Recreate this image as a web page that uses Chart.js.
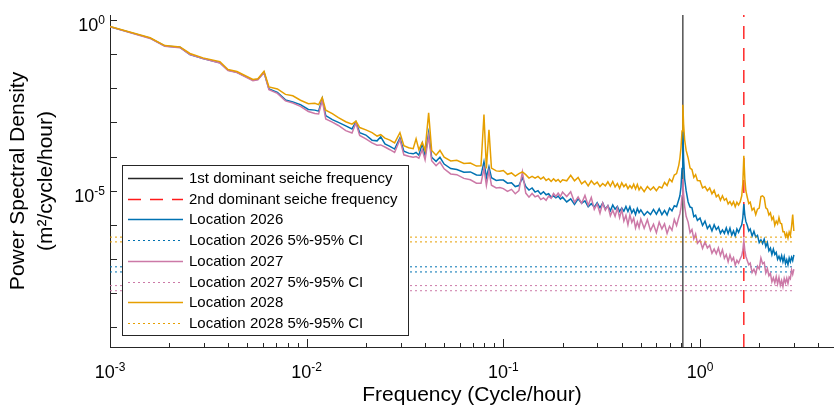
<!DOCTYPE html>
<html>
<head>
<meta charset="utf-8">
<title>Power Spectral Density</title>
<script src="https://cdn.jsdelivr.net/npm/chart.js@4.4.1/dist/chart.umd.min.js"></script>
<style>
    html, body { margin: 0; padding: 0; background: #fff; }
    #wrap { position: relative; width: 834px; height: 410px; }
</style>
</head>
<body>
<div id="wrap"><canvas id="psdChart"></canvas></div>
<script>
// Frequency (cycle/hour)
const freq = [
    0.0010, 0.0016, 0.0019, 0.00227, 0.00255, 0.00297, 0.00362, 0.00398, 0.00442, 0.00533,
    0.00565, 0.00607, 0.00643, 0.0071, 0.0078, 0.0085, 0.0093, 0.0102, 0.0110, 0.0115,
    0.0120, 0.0125, 0.0135, 0.0145, 0.0158, 0.0170, 0.0178, 0.0186, 0.0200, 0.0215,
    0.0228, 0.0238, 0.0250, 0.0265, 0.0280, 0.0298, 0.0312, 0.0330, 0.0348, 0.0360,
    0.0372, 0.0387, 0.0400, 0.0417, 0.0432, 0.0455, 0.0476, 0.0500, 0.0540, 0.0580,
    0.0630, 0.0680, 0.0730, 0.0770, 0.0797, 0.0820, 0.0845, 0.0870, 0.0920, 0.0960,
    0.100, 0.105, 0.110, 0.115, 0.120, 0.125, 0.130, 0.135, 0.140, 0.145,
    0.150, 0.155, 0.160, 0.165, 0.170, 0.175, 0.180, 0.185, 0.190, 0.195,
    0.200, 0.21, 0.22, 0.23, 0.24, 0.25, 0.26, 0.27, 0.28, 0.29,
    0.30, 0.31, 0.32, 0.33, 0.34, 0.35, 0.36, 0.37, 0.38, 0.39,
    0.40, 0.41, 0.42, 0.43, 0.44, 0.45, 0.46, 0.47, 0.48, 0.49,
    0.50, 0.52, 0.54, 0.56, 0.58, 0.60, 0.62, 0.64, 0.66, 0.68,
    0.70, 0.72, 0.74, 0.76, 0.78, 0.79, 0.80, 0.81, 0.818, 0.825,
    0.835, 0.85, 0.87, 0.89, 0.91, 0.93, 0.95, 0.97, 1.00, 1.03,
    1.06, 1.09, 1.12, 1.15, 1.18, 1.21, 1.24, 1.27, 1.30, 1.33,
    1.36, 1.39, 1.42, 1.45, 1.48, 1.51, 1.54, 1.57, 1.60, 1.63,
    1.65, 1.67, 1.69, 1.71, 1.74, 1.77, 1.80, 1.84, 1.88, 1.92,
    1.96, 2.00, 2.04, 2.08, 2.12, 2.16, 2.20, 2.24, 2.28, 2.32,
    2.36, 2.40, 2.44, 2.48, 2.52, 2.56, 2.60, 2.64, 2.68, 2.72,
    2.76, 2.80, 2.84, 2.88, 2.92, 2.96, 3.00
];

// PSD per location, stored as log10(m^2/cycle/hour)
const logPsd2026 = [
    -0.20, -0.53, -0.76, -0.80, -1.01, -1.13, -1.25, -1.47, -1.53, -1.76,
    -1.74, -1.53, -2.02, -2.12, -2.34, -2.40, -2.48, -2.62, -2.64, -2.67,
    -2.30, -2.80, -2.92, -3.00, -3.10, -3.19, -2.98, -3.30, -3.37, -3.52,
    -3.54, -3.42, -3.63, -3.70, -3.78, -3.45, -3.84, -3.90, -3.92, -3.88,
    -3.96, -3.62, -3.98, -3.30, -4.02, -4.14, -4.02, -4.22, -4.35, -4.38,
    -4.46, -4.45, -4.54, -4.55, -4.15, -4.62, -4.30, -4.62, -4.70, -4.69,
    -4.69, -4.78, -4.77, -4.88, -4.85, -4.62, -4.88, -4.98, -4.92, -5.04,
    -5.00, -5.10, -5.03, -5.12, -5.09, -5.19, -5.15, -5.21, -5.16, -5.25,
    -5.19, -5.33, -5.24, -5.40, -5.24, -5.37, -5.30, -5.47, -5.38, -5.48,
    -5.35, -5.50, -5.36, -5.54, -5.44, -5.59, -5.42, -5.54, -5.46, -5.61,
    -5.51, -5.60, -5.46, -5.61, -5.47, -5.65, -5.55, -5.70, -5.52, -5.64,
    -5.56, -5.72, -5.61, -5.70, -5.55, -5.69, -5.53, -5.70, -5.58, -5.71,
    -5.51, -5.59, -5.44, -5.47, -5.26, -5.15, -4.90, -4.35, -3.11, -4.05,
    -4.65, -5.00, -5.33, -5.48, -5.50, -5.76, -5.72, -5.87, -5.80, -6.02,
    -5.89, -6.11, -6.01, -6.18, -6.00, -6.14, -6.06, -6.25, -6.15, -6.25,
    -6.09, -6.26, -6.10, -6.30, -6.18, -6.33, -6.12, -6.22, -6.10, -6.00,
    -5.80, -5.39, -5.72, -5.90, -6.02, -6.18, -6.12, -6.33, -6.19, -6.36,
    -6.31, -6.52, -6.44, -6.55, -6.42, -6.64, -6.52, -6.76, -6.68, -6.87,
    -6.71, -6.87, -6.81, -7.01, -6.92, -7.04, -6.90, -7.08, -6.93, -7.13,
    -7.02, -7.17, -6.97, -7.08, -6.95, -7.05, -6.88
];

const logPsd2027 = [
    -0.20, -0.54, -0.77, -0.81, -1.01, -1.13, -1.26, -1.48, -1.54, -1.78,
    -1.75, -1.54, -2.04, -2.15, -2.37, -2.43, -2.53, -2.68, -2.74, -2.75,
    -2.35, -2.90, -2.99, -3.09, -3.24, -3.31, -3.02, -3.38, -3.48, -3.60,
    -3.67, -3.66, -3.72, -3.80, -3.88, -3.50, -3.95, -3.99, -4.02, -4.00,
    -4.05, -3.80, -4.10, -3.40, -4.12, -4.27, -4.16, -4.36, -4.51, -4.53,
    -4.64, -4.68, -4.78, -4.78, -4.35, -4.85, -4.42, -4.84, -4.92, -4.91,
    -4.94, -5.02, -4.96, -5.09, -5.00, -4.45, -5.07, -5.19, -5.08, -5.18,
    -5.14, -5.26, -5.21, -5.28, -5.16, -5.22, -5.08, -5.17, -5.07, -5.17,
    -5.04, -5.17, -5.03, -5.34, -5.18, -5.37, -5.14, -5.43, -5.20, -5.55,
    -5.39, -5.66, -5.36, -5.57, -5.44, -5.74, -5.57, -5.75, -5.51, -5.79,
    -5.55, -5.89, -5.72, -6.00, -5.71, -5.93, -5.80, -6.09, -5.91, -6.08,
    -5.83, -6.10, -5.85, -6.17, -5.98, -6.23, -5.92, -6.12, -5.97, -6.25,
    -6.04, -6.16, -5.84, -6.02, -5.78, -5.68, -5.50, -5.15, -4.66, -5.10,
    -5.45, -5.75, -5.92, -6.23, -6.14, -6.41, -6.27, -6.54, -6.45, -6.69,
    -6.50, -6.68, -6.60, -6.83, -6.71, -6.85, -6.68, -6.90, -6.73, -6.98,
    -6.87, -7.08, -6.88, -7.05, -6.96, -7.18, -7.04, -7.12, -7.00, -6.90,
    -6.75, -6.46, -6.75, -6.92, -7.05, -7.17, -7.12, -7.40, -7.30, -7.44,
    -7.21, -7.29, -6.97, -7.14, -7.10, -7.41, -7.28, -7.49, -7.42, -7.67,
    -7.55, -7.70, -7.52, -7.73, -7.54, -7.77, -7.63, -7.81, -7.57, -7.70,
    -7.56, -7.72, -7.53, -7.58, -7.32, -7.45, -7.30
];

const logPsd2028 = [
    -0.19, -0.52, -0.75, -0.79, -0.98, -1.11, -1.22, -1.45, -1.51, -1.74,
    -1.72, -1.50, -1.96, -2.02, -2.18, -2.22, -2.35, -2.45, -2.44, -2.48,
    -2.27, -2.64, -2.74, -2.86, -2.98, -3.05, -2.96, -3.15, -3.22, -3.30,
    -3.40, -3.36, -3.46, -3.52, -3.60, -3.30, -3.68, -3.74, -3.77, -3.48,
    -3.80, -3.58, -3.82, -2.72, -3.82, -3.96, -3.82, -4.02, -4.13, -4.11,
    -4.20, -4.19, -4.28, -4.27, -2.77, -4.35, -3.22, -4.34, -4.42, -4.43,
    -4.41, -4.52, -4.48, -4.57, -4.50, -4.45, -4.53, -4.63, -4.58, -4.63,
    -4.58, -4.66, -4.60, -4.70, -4.65, -4.73, -4.65, -4.72, -4.67, -4.75,
    -4.68, -4.71, -4.55, -4.71, -4.61, -4.80, -4.72, -4.86, -4.71, -4.82,
    -4.75, -4.88, -4.79, -4.86, -4.74, -4.87, -4.73, -4.89, -4.79, -4.93,
    -4.77, -4.88, -4.81, -4.94, -4.85, -4.93, -4.81, -4.95, -4.82, -4.98,
    -4.89, -5.03, -4.88, -4.98, -4.89, -5.00, -4.88, -4.92, -4.76, -4.85,
    -4.66, -4.74, -4.54, -4.50, -4.25, -4.05, -3.75, -3.25, -2.48, -3.05,
    -3.50, -3.82, -4.04, -4.34, -4.38, -4.61, -4.53, -4.70, -4.71, -4.92,
    -4.88, -5.00, -4.92, -5.09, -4.99, -5.18, -5.12, -5.28, -5.15, -5.28,
    -5.23, -5.39, -5.32, -5.42, -5.32, -5.47, -5.34, -5.42, -5.33, -5.15,
    -4.80, -3.98, -4.65, -5.00, -5.20, -5.38, -5.34, -5.57, -5.51, -5.70,
    -5.54, -5.51, -5.17, -5.15, -5.20, -5.50, -5.54, -5.71, -5.65, -5.85,
    -5.77, -6.01, -5.89, -5.97, -5.79, -5.95, -5.97, -6.20, -6.20, -6.35,
    -6.25, -6.39, -6.21, -6.31, -6.05, -5.70, -6.18
];

// 5%-95% confidence levels, log10 [lower, upper]
const logCi2026 = [-7.38, -7.23];
const logCi2027 = [-7.93, -7.78];
const logCi2028 = [-6.50, -6.36];

// Dominant seiche frequencies (cycle/hour)
const seicheFreqs = [0.818, 1.67];

// Axis ranges and tick exponents
const xRange = [0.001, 4.8];
const yRange = [2.64e-10, 1.4];
const xTickExps = [-3, -2, -1, 0];
const yTickExps = [-9, -8, -7, -6, -5, -4, -3, -2, -1, 0];
const yLabelExps = [-5, 0];

const AXIS_COLOR = '#262626';
const FONT_FAMILY = '"Liberation Sans", Arial, sans-serif';

function exponentOf(value) {
    const e = Math.log10(value);
    const r = Math.round(e);
    return Math.abs(e - r) < 1e-6 ? r : null;
}

function toPoints(logs) {
    return logs.map((v, i) => ({ x: freq[i], y: Math.pow(10, v) }));
}

function levelLine(logValue) {
    return [
        { x: freq[0], y: Math.pow(10, logValue) },
        { x: freq[freq.length - 1], y: Math.pow(10, logValue) }
    ];
}

function verticalLine(f) {
    return [{ x: f, y: yRange[0] }, { x: f, y: yRange[1] }];
}

// Inward tick marks (major decades longer, minor 2..9 shorter)
const inwardTicks = {
    id: 'inwardTicks',
    afterDatasetsDraw(chart) {
        const { ctx, chartArea, scales } = chart;
        ctx.save();
        ctx.strokeStyle = AXIS_COLOR;
        ctx.lineWidth = 1;
        ctx.beginPath();
        scales.x.ticks.forEach(t => {
            const px = Math.round(scales.x.getPixelForValue(t.value)) + 0.5;
            const len = exponentOf(t.value) !== null ? 8 : 4;
            ctx.moveTo(px, chartArea.bottom);
            ctx.lineTo(px, chartArea.bottom - len);
        });
        scales.y.ticks.forEach(t => {
            const py = Math.round(scales.y.getPixelForValue(t.value)) + 0.5;
            ctx.moveTo(chartArea.left, py);
            ctx.lineTo(chartArea.left + 7, py);
        });
        ctx.stroke();
        ctx.restore();
    }
};

// Power-of-ten tick labels with a raised exponent
const powerTickLabels = {
    id: 'powerTickLabels',
    afterDraw(chart) {
        const { ctx, chartArea, scales } = chart;
        const baseFont = '18px ' + FONT_FAMILY;
        const supFont = '12px ' + FONT_FAMILY;

        function drawLabel(exp, left, baseline) {
            ctx.font = baseFont;
            ctx.fillText('10', left, baseline);
            const wb = ctx.measureText('10').width;
            ctx.font = supFont;
            ctx.fillText(String(exp), left + wb, baseline - 7);
        }

        function labelWidth(exp) {
            ctx.font = baseFont;
            const wb = ctx.measureText('10').width;
            ctx.font = supFont;
            return wb + ctx.measureText(String(exp)).width;
        }

        ctx.save();
        ctx.fillStyle = '#000';
        ctx.textBaseline = 'alphabetic';
        ctx.textAlign = 'left';
        xTickExps.forEach(e => {
            const px = scales.x.getPixelForValue(Math.pow(10, e));
            drawLabel(e, px - labelWidth(e) / 2, chartArea.bottom + 31);
        });
        yLabelExps.forEach(e => {
            const py = scales.y.getPixelForValue(Math.pow(10, e));
            drawLabel(e, chartArea.left - 5 - labelWidth(e), py + 11);
        });
        ctx.restore();
    }
};

// Boxed legend in the lower-left corner of the plot area
const boxLegend = {
    id: 'boxLegend',
    afterDraw(chart) {
        const { ctx, chartArea } = chart;
        const items = chart.data.datasets.filter(d => !d.legendSkip);
        const rowH = 20.7;
        const w = 286;
        const h = Math.round(items.length * rowH + 4);
        const x0 = chartArea.left + 12;
        const y0 = chartArea.bottom - 12 - h;

        ctx.save();
        ctx.fillStyle = '#fff';
        ctx.fillRect(x0, y0, w, h);
        ctx.strokeStyle = AXIS_COLOR;
        ctx.lineWidth = 1;
        ctx.strokeRect(x0 + 0.5, y0 + 0.5, w, h);

        ctx.font = '15px ' + FONT_FAMILY;
        ctx.textBaseline = 'middle';
        items.forEach((ds, i) => {
            const y = Math.round(y0 + 13 + i * rowH) + 0.5;
            ctx.beginPath();
            ctx.setLineDash(ds.borderDash || []);
            ctx.strokeStyle = ds.borderColor;
            ctx.lineWidth = ds.borderDash && ds.borderDash[0] < 5 ? 1 : 1.5;
            ctx.moveTo(x0 + 6, y);
            ctx.lineTo(x0 + 61, y);
            ctx.stroke();
            ctx.setLineDash([]);
            ctx.fillStyle = '#000';
            ctx.fillText(ds.label, x0 + 67, y);
        });
        ctx.restore();
    }
};

document.addEventListener('DOMContentLoaded', function () {
    const ctx = document.getElementById('psdChart');
    const blue = '#0072B2';
    const pink = '#CC79A7';
    const orange = '#E69F00';
    const red = '#FF1A1A';
    const dotted = [2, 3];

    const base = { pointRadius: 0, borderWidth: 1, tension: 0, fill: false };
    const series = { ...base, borderWidth: 1.5 };

    const datasets = [
        { ...base, label: '1st dominant seiche frequency', data: verticalLine(seicheFreqs[0]),
            borderColor: AXIS_COLOR, borderWidth: 1.2, order: 8 },
        { ...base, label: '2nd dominant seiche frequency', data: verticalLine(seicheFreqs[1]),
            borderColor: red, borderWidth: 1.4, borderDash: [13, 9], order: 7 },
        { ...series, label: 'Location 2026', data: toPoints(logPsd2026), borderColor: blue, order: 6 },
        { ...base, label: 'Location 2026 5%-95% CI', data: levelLine(logCi2026[0]),
            borderColor: blue, borderDash: dotted, order: 5 },
        { ...base, label: 'Location 2026 95%', legendSkip: true, data: levelLine(logCi2026[1]),
            borderColor: blue, borderDash: dotted, order: 5 },
        { ...series, label: 'Location 2027', data: toPoints(logPsd2027), borderColor: pink, order: 4 },
        { ...base, label: 'Location 2027 5%-95% CI', data: levelLine(logCi2027[0]),
            borderColor: pink, borderDash: dotted, order: 3 },
        { ...base, label: 'Location 2027 95%', legendSkip: true, data: levelLine(logCi2027[1]),
            borderColor: pink, borderDash: dotted, order: 3 },
        { ...series, label: 'Location 2028', data: toPoints(logPsd2028), borderColor: orange, order: 2 },
        { ...base, label: 'Location 2028 5%-95% CI', data: levelLine(logCi2028[0]),
            borderColor: orange, borderDash: dotted, order: 1 },
        { ...base, label: 'Location 2028 95%', legendSkip: true, data: levelLine(logCi2028[1]),
            borderColor: orange, borderDash: dotted, order: 1 }
    ];

    Chart.defaults.font.family = FONT_FAMILY;
    Chart.defaults.color = '#000';

    new Chart(ctx, {
        type: 'line',
        data: { datasets: datasets },
        options: {
            responsive: true,
            maintainAspectRatio: false,
            animation: false,
            layout: { padding: { top: 15, right: 0, bottom: 0, left: 0 } },
            plugins: {
                legend: { display: false },
                tooltip: { enabled: false }
            },
            scales: {
                x: {
                    type: 'logarithmic',
                    min: xRange[0],
                    max: xRange[1],
                    afterBuildTicks: function (scale) {
                        const ticks = [];
                        xTickExps.forEach(e => {
                            for (let m = 1; m <= 9; m++) {
                                const v = m * Math.pow(10, e);
                                if (v <= xRange[1]) ticks.push({ value: v });
                            }
                        });
                        scale.ticks = ticks;
                    },
                    afterFit: function (scale) { scale.height = 63; },
                    grid: { display: false, drawTicks: false },
                    border: { display: true, color: AXIS_COLOR, width: 1 },
                    ticks: { display: false },
                    title: {
                        display: true,
                        text: 'Frequency (Cycle/hour)',
                        font: { size: 21 },
                        padding: { top: 0, bottom: 2 }
                    }
                },
                y: {
                    type: 'logarithmic',
                    min: yRange[0],
                    max: yRange[1],
                    afterBuildTicks: function (scale) {
                        scale.ticks = yTickExps.map(e => ({ value: Math.pow(10, e) }));
                    },
                    afterFit: function (scale) { scale.width = 110; },
                    grid: { display: false, drawTicks: false },
                    border: { display: true, color: AXIS_COLOR, width: 1 },
                    ticks: { display: false },
                    title: {
                        display: true,
                        text: ['Power Spectral Density', '(m\u00B2/cycle/hour)'],
                        font: { size: 21, lineHeight: 1.35 },
                        padding: { top: 4, bottom: 0 }
                    }
                }
            }
        },
        plugins: [inwardTicks, powerTickLabels, boxLegend]
    });
});
</script>
</body>
</html>
